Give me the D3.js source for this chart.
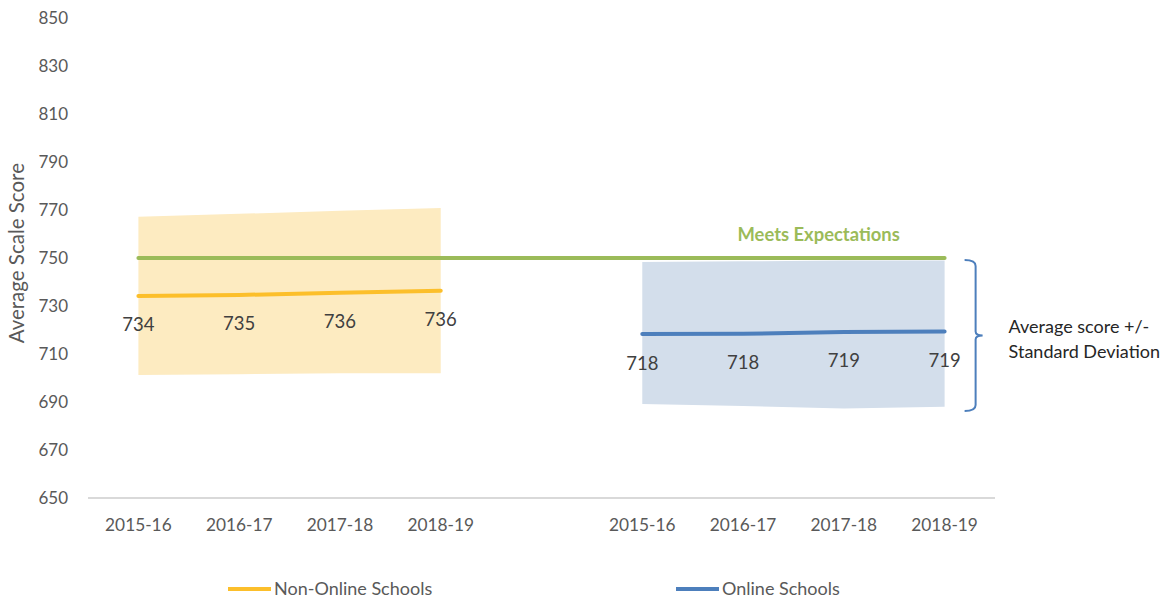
<!DOCTYPE html>
<html>
<head>
<meta charset="utf-8">
<script src="https://cdn.jsdelivr.net/npm/d3@7"></script>
<style>
  html, body { margin: 0; padding: 0; background: #fff; }
  svg { display: block; font-family: Lato, "Open Sans", sans-serif; }
</style>
</head>
<body>
<svg id="chart" width="1171" height="600"></svg>
<script>
// Average scale score, non-online vs online schools, with +/- 1 SD bands.
const years = ['2015-16', '2016-17', '2017-18', '2018-19'];
const nonOnlineMean = [734.2, 734.6, 735.5, 736.4];
const nonOnlineUpper = [767.2, 768.4, 769.7, 770.8];
const nonOnlineLower = [701.2, 701.6, 702.0, 702.0];
const onlineMean = [718.3, 718.4, 719.2, 719.4];
const onlineUpper = [748.3, 748.6, 749.0, 749.0];
const onlineLower = [689.2, 688.3, 687.3, 688.0];
const meetsExpectations = 750;
const yTicks = [650, 670, 690, 710, 730, 750, 770, 790, 810, 830, 850];

const ORANGE = '#fcbf2b', ORANGE_BAND = '#fdebc1';
const BLUE = '#4d7fbc', BLUE_BAND = '#d3deeb';
const GREEN = '#9bbb59', GREY = '#595959';

const svg = d3.select('#chart');

// 9 category slots: 4 non-online years, one empty gap, 4 online years
const slots = d3.range(9);
const x = d3.scaleBand().domain(slots).range([88, 995]);
const cx = i => x(i) + x.bandwidth() / 2;
const y = d3.scaleLinear().domain([650, 850]).range([498, 18]);

const nonOnline = years.map((yr, i) => ({slot: i, mean: nonOnlineMean[i], hi: nonOnlineUpper[i], lo: nonOnlineLower[i]}));
const online = years.map((yr, i) => ({slot: i + 5, mean: onlineMean[i], hi: onlineUpper[i], lo: onlineLower[i]}));

// y tick labels (no gridlines, no axis line)
svg.append('g')
  .selectAll('text')
  .data(yTicks)
  .join('text')
    .attr('x', 68)
    .attr('y', d => y(d))
    .attr('dy', '0.35em')
    .attr('text-anchor', 'end')
    .attr('fill', GREY)
    .attr('font-size', 17)
    .text(d => d);

svg.append('text')
  .attr('transform', `translate(24,${y(752)}) rotate(-90)`)
  .attr('text-anchor', 'middle')
  .attr('fill', GREY)
  .attr('font-size', 20.5)
  .text('Average Scale Score');

// baseline
svg.append('line')
  .attr('x1', x.range()[0]).attr('x2', x.range()[1])
  .attr('y1', y(650)).attr('y2', y(650))
  .attr('stroke', '#d9d9d9').attr('stroke-width', 2);

// category labels
const catLabels = slots.map(i => i < 4 ? years[i] : (i > 4 ? years[i - 5] : ''));
svg.append('g')
  .selectAll('text')
  .data(slots)
  .join('text')
    .attr('x', d => cx(d))
    .attr('y', 525)
    .attr('dy', '0.35em')
    .attr('text-anchor', 'middle')
    .attr('fill', GREY)
    .attr('font-size', 17.3)
    .text(d => catLabels[d]);

// SD bands
const area = d3.area().x(d => cx(d.slot)).y0(d => y(d.lo)).y1(d => y(d.hi));
svg.append('path').datum(nonOnline).attr('d', area).attr('fill', ORANGE_BAND);
svg.append('path').datum(online).attr('d', area).attr('fill', BLUE_BAND);

// meets expectations line
svg.append('line')
  .attr('x1', cx(0)).attr('x2', cx(8))
  .attr('y1', y(meetsExpectations)).attr('y2', y(meetsExpectations))
  .attr('stroke', GREEN).attr('stroke-width', 4).attr('stroke-linecap', 'round');

svg.append('text')
  .attr('x', (cx(6) + 3 * cx(7)) / 4)
  .attr('y', y(meetsExpectations) - 23)
  .attr('dy', '0.35em')
  .attr('text-anchor', 'middle')
  .attr('fill', GREEN)
  .attr('font-size', 18.4)
  .attr('font-weight', 'bold')
  .text('Meets Expectations');

// mean lines
const line = d3.line().x(d => cx(d.slot)).y(d => y(d.mean));
svg.append('path').datum(nonOnline).attr('d', line)
  .attr('fill', 'none').attr('stroke', ORANGE).attr('stroke-width', 4).attr('stroke-linecap', 'round');
svg.append('path').datum(online).attr('d', line)
  .attr('fill', 'none').attr('stroke', BLUE).attr('stroke-width', 4).attr('stroke-linecap', 'round');

// data labels below the lines
svg.append('g')
  .selectAll('text')
  .data(nonOnline.concat(online))
  .join('text')
    .attr('x', d => cx(d.slot))
    .attr('y', d => y(d.mean) + 29)
    .attr('dy', '0.35em')
    .attr('text-anchor', 'middle')
    .attr('fill', '#404040')
    .attr('font-size', 18.5)
    .text(d => d3.format('.0f')(d.mean));

// bracket marking the online band
const bTop = y(meetsExpectations) + 2, bBot = y(d3.min(onlineLower) - 1), bMid = (bTop + bBot) / 2;
const bx = cx(8) + 31;
svg.append('path')
  .attr('d', `M${bx - 11},${bTop} Q${bx},${bTop} ${bx},${bTop + 6} L${bx},${bMid - 4} Q${bx},${bMid} ${bx + 7},${bMid}` +
             ` Q${bx},${bMid} ${bx},${bMid + 4} L${bx},${bBot - 6} Q${bx},${bBot} ${bx - 11},${bBot}`)
  .attr('fill', 'none').attr('stroke', BLUE).attr('stroke-width', 2);

svg.append('text')
  .attr('x', bx + 33)
  .attr('y', bMid - 9)
  .attr('dy', '0.35em')
  .attr('fill', '#262626')
  .attr('font-size', 18)
  .text('Average score +/-');
svg.append('text')
  .attr('x', bx + 33)
  .attr('y', bMid + 16)
  .attr('dy', '0.35em')
  .attr('fill', '#262626')
  .attr('font-size', 18)
  .text('Standard Deviation');

// legend
const legend = [
  {name: 'Non-Online Schools', color: ORANGE, x: 228},
  {name: 'Online Schools', color: BLUE, x: 676}
];
const lg = svg.append('g').selectAll('g').data(legend).join('g')
  .attr('transform', d => `translate(${d.x},589)`);
lg.append('line').attr('x1', 0).attr('x2', 43)
  .attr('stroke', d => d.color).attr('stroke-width', 4);
lg.append('text').attr('x', 46).attr('dy', '0.35em')
  .attr('fill', GREY).attr('font-size', 18)
  .text(d => d.name);
</script>
</body>
</html>
